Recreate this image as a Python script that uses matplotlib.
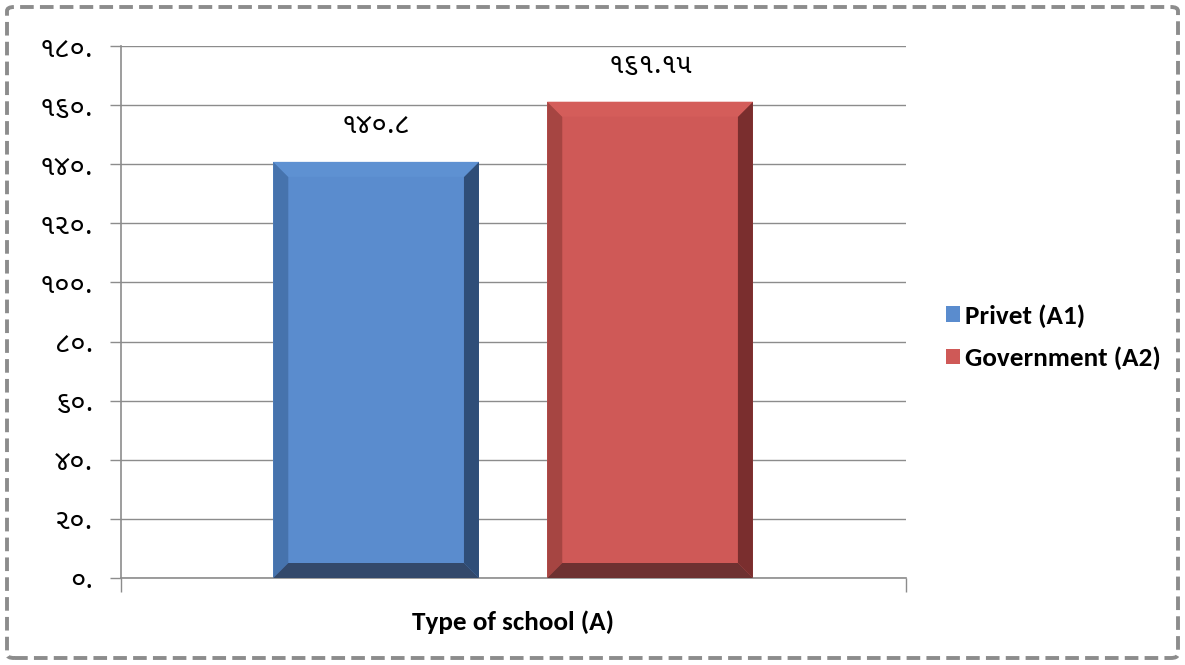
import matplotlib
matplotlib.use("Agg")
import matplotlib.pyplot as plt
from matplotlib.patches import Polygon, FancyBboxPatch

# data
categories = ['Type of school (A)']
series = ['Privet (A1)', 'Government (A2)']
values = [140.8, 161.15]
value_labels = ['૧૪૦.૮', '૧૬૧.૧૫']
yticks = [0, 20, 40, 60, 80, 100, 120, 140, 160, 180]
ytick_labels = ['૦.', '૨૦.', '૪૦.', '૬૦.', '૮૦.', '૧૦૦.', '૧૨૦.', '૧૪૦.', '૧૬૦.', '૧૮૦.']

# colours: front, left, right, bottom, top
face_cols = [
    ['#5A8CCE', '#4673AD', '#2F4E78', '#33496B', '#5E91D2'],
    ['#CF5957', '#A64542', '#7A2E2E', '#6E3131', '#D45D5A'],
]

num_family = ['Noto Sans Gujarati UI', 'Noto Sans Gujarati', 'DejaVu Sans']
label_family = ['Carlito', 'Lato', 'DejaVu Sans']

fig = plt.figure(figsize=(11.85, 6.65), dpi=100)
ax = fig.add_axes([121 / 1185, 1 - 578 / 665, 785 / 1185, 532 / 665])

ax.set_xlim(-0.5, 0.5)
ax.set_ylim(0, 180)

grid_col = '#8C8C8C'
ax.set_yticks(yticks)
ax.set_yticklabels(ytick_labels, family=num_family, fontsize=20)
ax.yaxis.grid(True, color=grid_col, linewidth=1)
ax.set_axisbelow(True)
ax.tick_params(axis='y', length=8, color=grid_col, width=1, pad=12)
ax.set_xticks([-0.5, 0.5])
ax.set_xticklabels(['', ''])
ax.tick_params(axis='x', length=10, color=grid_col, width=1)
for s in ['top', 'right']:
    ax.spines[s].set_visible(False)
for s in ['left', 'bottom']:
    ax.spines[s].set_color(grid_col)
    ax.spines[s].set_linewidth(1.2)

offsets = [-0.175, 0.174]
width = 0.262

# bevel depth: 15 px converted to data units
dx = 15 / 785
dy = 15 / (532 / 180.0)

for i, (name, val) in enumerate(zip(series, values)):
    cols = face_cols[i]
    bars = ax.bar(offsets[i], val, width, color=cols[0], label=name, zorder=2)
    b = bars[0]
    x0 = b.get_x()
    x1 = x0 + b.get_width()
    h = b.get_height()
    polys = [
        ([(x0, 0), (x0 + dx, dy), (x0 + dx, h - dy), (x0, h)], cols[1]),
        ([(x1, 0), (x1, h), (x1 - dx, h - dy), (x1 - dx, dy)], cols[2]),
        ([(x0, 0), (x1, 0), (x1 - dx, dy), (x0 + dx, dy)], cols[3]),
        ([(x0, h), (x0 + dx, h - dy), (x1 - dx, h - dy), (x1, h)], cols[4]),
    ]
    for pts, c in polys:
        ax.add_patch(Polygon(pts, closed=True, facecolor=c, edgecolor='none', zorder=3))
    ax.annotate(value_labels[i], (offsets[i], val), xytext=(0, 16),
                textcoords='offset points', ha='center', va='bottom',
                family=num_family, fontsize=20)

ax.text(0, -0.083, categories[0], transform=ax.get_xaxis_transform(),
        ha='center', va='center', fontsize=19.5, fontweight='bold', family=label_family)

leg = ax.legend(loc='center left', bbox_to_anchor=(1.02, 0.453), frameon=False,
                prop={'family': label_family, 'weight': 'bold', 'size': 19.5},
                handlelength=0.5, handleheight=0.5, handletextpad=0.2,
                labelspacing=0.7)

# dashed frame round the whole picture
frame = FancyBboxPatch((7 / 1185, 7 / 665), 1 - 14 / 1185, 1 - 14 / 665,
                       boxstyle='round,pad=0,rounding_size=0.006',
                       transform=fig.transFigure, facecolor='none',
                       edgecolor='#8C8C8C', linewidth=2.8,
                       linestyle=(0, (3.5, 1.6)))
fig.patches.append(frame)

fig.savefig('out.png', dpi=100)
